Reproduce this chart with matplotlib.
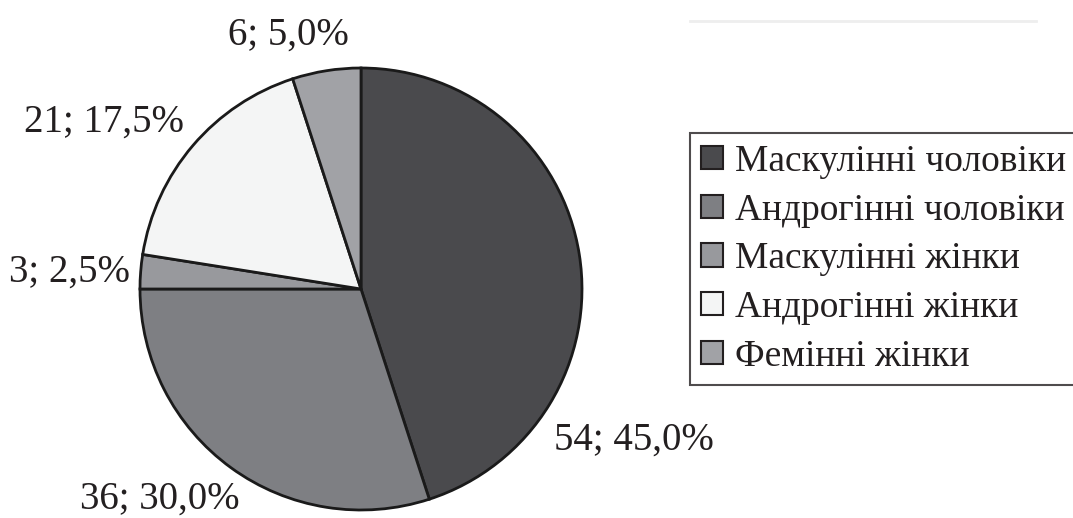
import matplotlib
matplotlib.use("Agg")
import matplotlib.pyplot as plt
from matplotlib.lines import Line2D
import numpy as np

plt.rcParams["font.family"] = ["Liberation Serif", "DejaVu Serif"]

categories = ["Маскулінні чоловіки", "Андрогінні чоловіки", "Маскулінні жінки",
              "Андрогінні жінки", "Фемінні жінки"]
values = [54, 36, 3, 21, 6]
colors = ["#4a4a4d", "#7e7f83", "#98999d", "#f4f5f5", "#a1a2a6"]

# label placement: angle (deg), distance (in radii), alignment
label_angle = [-38, -120, 175.8, 136.8, 106]
label_dist = [1.11, 1.10, 1.05, 1.10, 1.195]
label_ha = ["left", "right", "right", "right", "center"]

W, H = 1073, 518
fig = plt.figure(figsize=(W / 100, H / 100), dpi=100)
ax = fig.add_axes([0, 0, 1, 1])

cx, cy, r = 361, H - 289, 221
total = sum(values)
wedges, _ = ax.pie(values, colors=colors, startangle=90, counterclock=False,
                   center=(cx, cy), radius=r, frame=True,
                   wedgeprops=dict(edgecolor="#1a1a1a", linewidth=2))
ax.set_xlim(0, W)
ax.set_ylim(0, H)
ax.set_aspect("equal")
ax.axis("off")

for v, a, d, ha in zip(values, label_angle, label_dist, label_ha):
    pct = f"{100 * v / total:.1f}".replace(".", ",")
    x = cx + r * d * np.cos(np.radians(a))
    y = cy + r * d * np.sin(np.radians(a))
    ax.text(x, y, f"{v}; {pct}%", ha=ha, va="center", fontsize=28, color="#231f20")

leg = ax.legend(wedges, categories, loc="upper left",
                bbox_to_anchor=(690 / W, 1 - 133 / H), bbox_transform=fig.transFigure,
                borderaxespad=0, fontsize=27, frameon=True, fancybox=False,
                handlelength=0.58, handleheight=0.58, handletextpad=0.32,
                labelspacing=0.38, borderpad=0.3)
leg.get_frame().set_edgecolor("#231f20")
leg.get_frame().set_linewidth(1.5)
for h in leg.legend_handles:
    h.set_linewidth(1.5)
    h.set_edgecolor("#231f20")
for t in leg.get_texts():
    t.set_color("#231f20")

fig.add_artist(Line2D([690 / W, 1036 / W], [1 - 21 / H] * 2, color="#eeeeee",
                      linewidth=2, transform=fig.transFigure))

fig.savefig("out.png", dpi=100)
